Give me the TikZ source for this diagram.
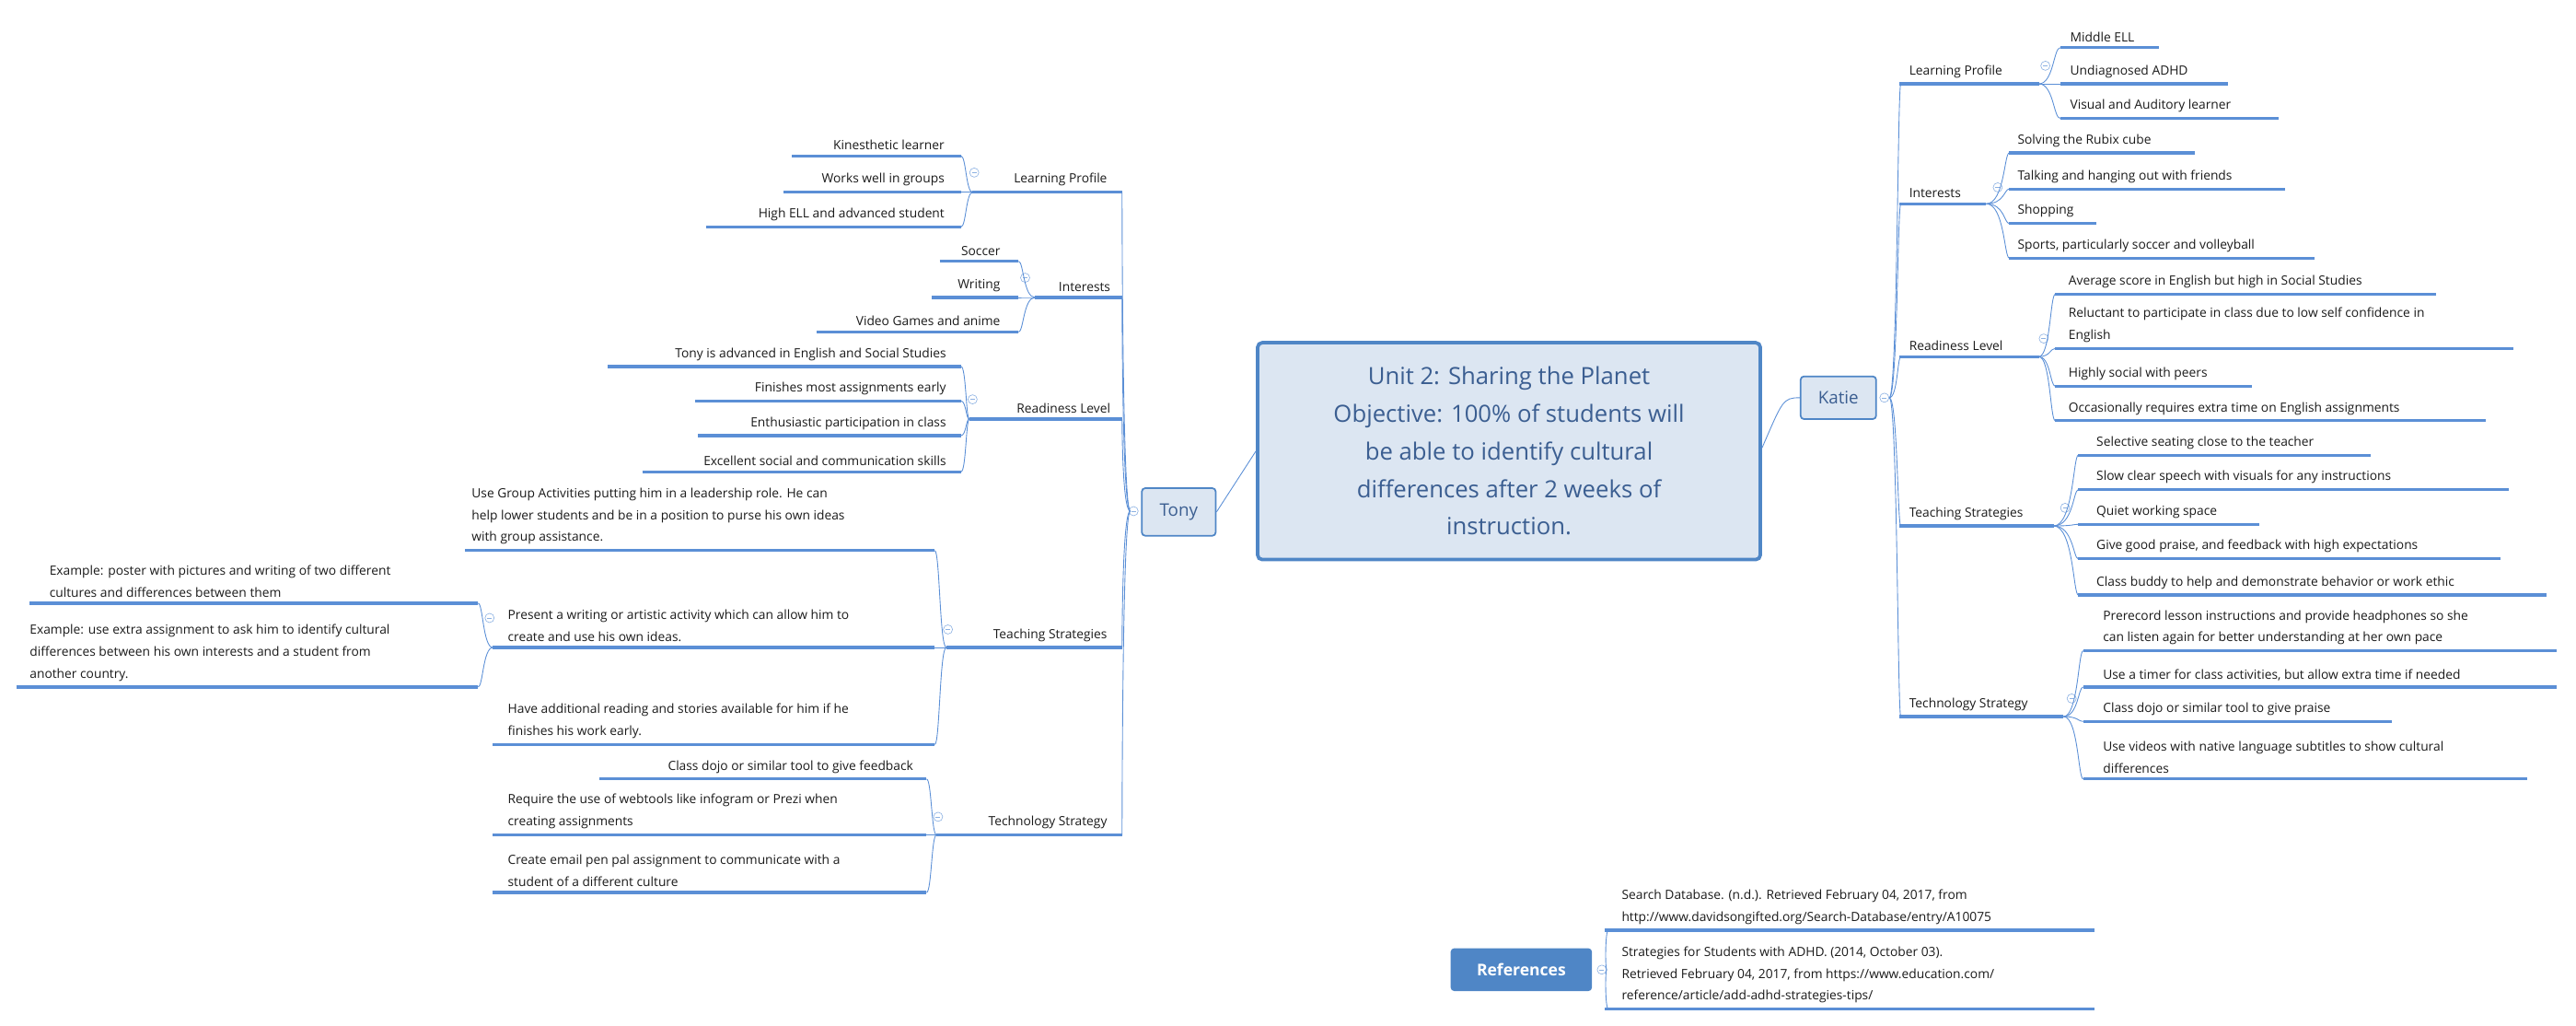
\documentclass[tikz,border=0pt]{standalone}
\usepackage{fontspec}
\setmainfont{Open Sans}
\definecolor{ulc}{HTML}{5B8FD6}
\definecolor{bord}{HTML}{4F86C6}
\definecolor{cfill}{HTML}{DCE6F2}
\definecolor{ctext}{HTML}{3B5E91}
\definecolor{ltext}{HTML}{1A1A1A}
\tikzset{
 ul/.style={draw=ulc,line width=2.6pt},
 conn/.style={draw=ulc,line width=0.7pt},
 leaf/.style={inner sep=0pt,align=left,text=ltext,font=\fontsize{11}{19}\selectfont},
 mk/.style={circle,draw=ulc!70,line width=0.5pt,minimum size=0.28cm,inner sep=0pt,
   path picture={\draw[ulc!70,line width=0.5pt] ([xshift=-0.07cm]path picture bounding box.center)--([xshift=0.07cm]path picture bounding box.center);}},
 topic/.style={draw=bord,fill=cfill,rounded corners=3pt,line width=1.4pt,text=ctext,font=\fontsize{15}{18}\selectfont,inner sep=0pt},
}
% name, x1, x2, u, anchor, tx, text
\newcommand\lf[7]{\draw[ul] (#2,#4) coordinate (#1L) -- (#3,#4) coordinate (#1R);
 \node[leaf,anchor=#5] (#1) at (#6,#4-3.5) {#7};}
% connector: sx sy cx ex ey
\newcommand\cn[5]{\draw[conn] (#1,#2) .. controls (#3,#2) and (#3,#5) .. (#4,#5);}
\begin{document}
\begin{tikzpicture}[x=0.05cm,y=-0.05cm]
\useasboundingbox (0,0) rectangle (1568,624);
% central
\node[draw=bord,fill=cfill,rounded corners=4pt,line width=3pt,minimum width=15.3cm,minimum height=6.6cm,align=center,text=ctext,font=\fontsize{20.5}{32.5}\selectfont] (c) at (918.5,274.5)
 {Unit 2: Sharing the Planet\\Objective: 100\% of students will\\be able to identify cultural\\differences after 2 weeks of\\instruction.};
\node[topic,minimum width=2.25cm,minimum height=1.45cm] (tony) at (717.5,311.5) {Tony};
\node[topic,minimum width=2.3cm,minimum height=1.3cm] (katie) at (1119,242) {Katie};
\draw[conn] (c.west) -- (tony.east);
\draw[conn] ([yshift=0.1cm]c.east) .. controls (1085,244) and (1085,242) .. (katie.west);
\node[mk] (tonym) at (690,311) {};
\node[mk] (katiem) at (1147,242) {};
% ---------- Tony side ----------
\lf{tlp}{592}{683}{117}{south east}{674}{Learning Profile}
\lf{tint}{630}{683}{181}{south east}{676}{Interests}
\lf{trl}{590}{683}{255}{south east}{676}{Readiness Level}
\lf{tts}{576}{683}{394}{south east}{674}{Teaching Strategies}
\lf{ttech}{570}{683}{508}{south east}{674}{Technology Strategy}
\foreach \u in {117,181,255,394,508}{\cn{688}{311}{683}{683}{\u}}
\node[mk] at (593,105) {};
\node[mk] at (624,169) {};
\node[mk] at (592,243) {};
\node[mk] at (577,383) {};
\node[mk] at (571,497) {};
\lf{t1}{482}{585}{95}{south east}{575}{Kinesthetic learner}
\lf{t2}{477}{585}{117}{south east}{575}{Works well in groups}
\lf{t3}{430}{585}{138}{south east}{575}{High ELL and advanced student}
\foreach \u in {95,117,138}{\cn{592}{117}{588}{585}{\u}}
\lf{t4}{572}{620}{159}{south east}{609}{Soccer}
\lf{t5}{567}{620}{181}{south east}{609}{Writing}
\lf{t6}{497}{620}{202}{south east}{609}{Video Games and anime}
\foreach \u in {159,181,202}{\cn{630}{181}{623}{620}{\u}}
\lf{t7}{370}{585}{223}{south east}{576}{Tony is advanced in English and Social Studies}
\lf{t8}{423}{585}{244}{south east}{576}{Finishes most assignments early}
\lf{t9}{425}{585}{265}{south east}{576}{Enthusiastic participation in class}
\lf{t10}{391}{585}{287}{south east}{576}{Excellent social and communication skills}
\foreach \u in {223,244,265,287}{\cn{590}{255}{588}{585}{\u}}
\lf{t11}{283}{569}{335}{south west}{287}{Use Group Activities putting him in a leadership role. He can\\help lower students and be in a position to purse his own ideas\\with group assistance.}
\lf{t12}{300}{569}{394}{south west}{309}{Present a writing or artistic activity which can allow him to\\create and use his own ideas.}
\lf{t13}{300}{569}{453}{south west}{309}{Have additional reading and stories available for him if he\\finishes his work early.}
\foreach \u in {335,394,453}{\cn{576}{394}{572}{569}{\u}}
\node[mk] at (298,376) {};
\lf{t14}{18}{291}{367}{south west}{30}{Example: poster with pictures and writing of two different\\cultures and differences between them}
\lf{t15}{10}{291}{418}{south west}{18}{Example: use extra assignment to ask him to identify cultural\\differences between his own interests and a student from\\another country.}
\foreach \u in {367,418}{\cn{300}{394}{294}{291}{\u}}
\lf{t16}{365}{564}{474}{south east}{556}{Class dojo or similar tool to give feedback}
\lf{t17}{300}{564}{508}{south west}{309}{Require the use of webtools like infogram or Prezi when\\creating assignments}
\lf{t18}{300}{564}{543}{south west}{309}{Create email pen pal assignment to communicate with a\\student of a different culture}
\foreach \u in {474,508,543}{\cn{570}{508}{567}{564}{\u}}
% ---------- Katie side ----------
\lf{klp}{1156}{1241}{51}{south west}{1162}{Learning Profile}
\lf{kint}{1156}{1209}{124}{south west}{1162}{Interests}
\lf{krl}{1156}{1241}{217}{south west}{1162}{Readiness Level}
\lf{kts}{1156}{1250}{320}{south west}{1162}{Teaching Strategies}
\lf{ktech}{1156}{1256}{436}{south west}{1162}{Technology Strategy}
\foreach \u in {51,124,217,320,436}{\cn{1150}{242}{1155}{1157}{\u}}
\node[mk] at (1245,40) {};
\node[mk] at (1216,114) {};
\node[mk] at (1244,206) {};
\node[mk] at (1257,309) {};
\node[mk] at (1261,425) {};
\lf{k1}{1254}{1314}{29}{south west}{1260}{Middle ELL}
\lf{k2}{1254}{1356}{51}{south west}{1260}{Undiagnosed ADHD}
\lf{k3}{1254}{1387}{72}{south west}{1260}{Visual and Auditory learner}
\foreach \u in {29,51,72}{\cn{1241}{51}{1250}{1254}{\u}}
\lf{k4}{1223}{1336}{93}{south west}{1228}{Solving the Rubix cube}
\lf{k5}{1223}{1391}{115}{south west}{1228}{Talking and hanging out with friends}
\lf{k6}{1223}{1276}{136}{south west}{1228}{Shopping}
\lf{k7}{1223}{1409}{157}{south west}{1228}{Sports, particularly soccer and volleyball}
\foreach \u in {93,115,136,157}{\cn{1209}{124}{1220}{1223}{\u}}
\lf{k8}{1251}{1483}{179}{south west}{1259}{Average score in English but high in Social Studies}
\lf{k9}{1251}{1530}{212}{south west}{1259}{Reluctant to participate in class due to low self confidence in\\English}
\lf{k10}{1251}{1371}{235}{south west}{1259}{Highly social with peers}
\lf{k11}{1251}{1513}{256}{south west}{1259}{Occasionally requires extra time on English assignments}
\foreach \u in {179,212,235,256}{\cn{1241}{217}{1248}{1251}{\u}}
\lf{k12}{1265}{1443}{277}{south west}{1276}{Selective seating close to the teacher}
\lf{k13}{1265}{1527}{298}{south west}{1276}{Slow clear speech with visuals for any instructions}
\lf{k14}{1265}{1375}{319}{south west}{1276}{Quiet working space}
\lf{k15}{1265}{1522}{340}{south west}{1276}{Give good praise, and feedback with high expectations}
\lf{k16}{1265}{1550}{362}{south west}{1276}{Class buddy to help and demonstrate behavior or work ethic}
\foreach \u in {277,298,319,340,362}{\cn{1250}{320}{1262}{1265}{\u}}
\lf{k17}{1268}{1556}{396}{south west}{1280}{Prerecord lesson instructions and provide headphones so she\\can listen again for better understanding at her own pace}
\lf{k18}{1268}{1556}{418}{south west}{1280}{Use a timer for class activities, but allow extra time if needed}
\lf{k19}{1268}{1456}{439}{south west}{1280}{Class dojo or similar tool to give praise}
\lf{k20}{1268}{1538}{474}{south west}{1280}{Use videos with native language subtitles to show cultural\\differences}
\foreach \u in {396,418,439,474}{\cn{1256}{436}{1265}{1268}{\u}}
% ---------- References ----------
\node[fill=bord,rounded corners=3pt,minimum width=4.3cm,minimum height=1.3cm,text=white,font=\bfseries\fontsize{14}{16}\selectfont] (refs) at (926,590) {References};
\node[mk] (refm) at (975,590) {};
\lf{r1}{977}{1275}{566}{south west}{987}{Search Database. (n.d.). Retrieved February 04, 2017, from\\http://www.davidsongifted.org/Search-Database/entry/A10075}
\lf{r2}{977}{1275}{614}{south west}{987}{Strategies for Students with ADHD. (2014, October 03).\\Retrieved February 04, 2017, from https://www.education.com/\\reference/article/add-adhd-strategies-tips/}
\foreach \u in {566,614}{\cn{978}{590}{977}{979}{\u}}
\end{tikzpicture}
\end{document}
